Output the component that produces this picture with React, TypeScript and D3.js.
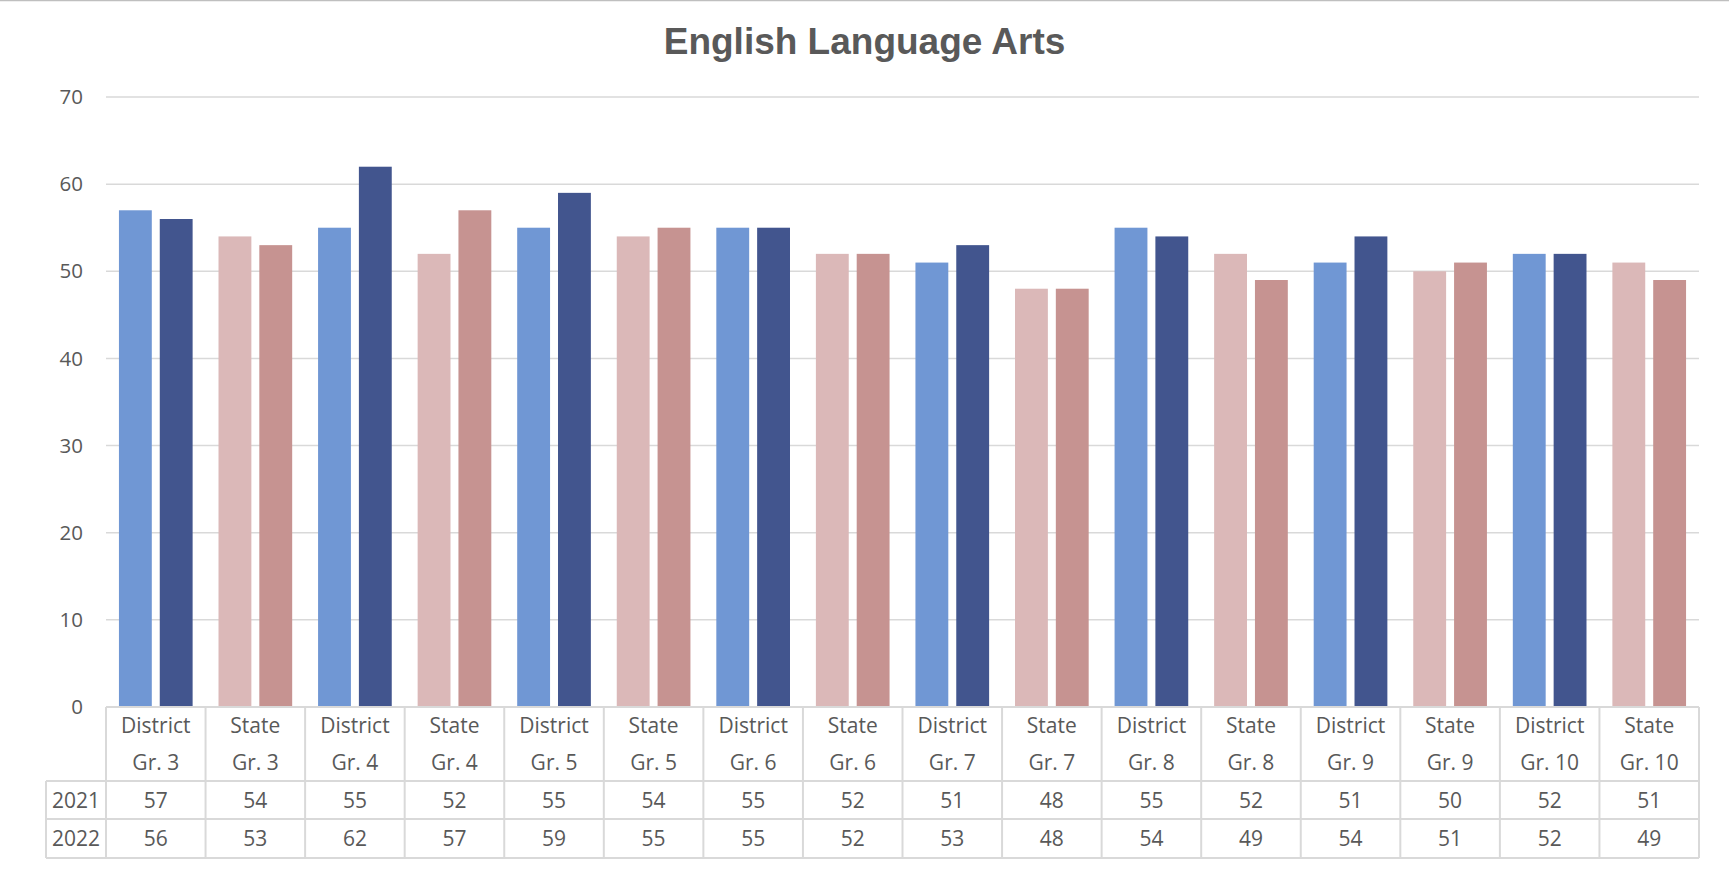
import React from "react";
import * as d3 from "d3";

const groups = ["District", "State", "District", "State", "District", "State", "District", "State", "District", "State", "District", "State", "District", "State", "District", "State"];
const grades = ["Gr. 3", "Gr. 3", "Gr. 4", "Gr. 4", "Gr. 5", "Gr. 5", "Gr. 6", "Gr. 6", "Gr. 7", "Gr. 7", "Gr. 8", "Gr. 8", "Gr. 9", "Gr. 9", "Gr. 10", "Gr. 10"];
const years = ["2021", "2022"];
const values2021 = [57, 54, 55, 52, 55, 54, 55, 52, 51, 48, 55, 52, 51, 50, 52, 51];
const values2022 = [56, 53, 62, 57, 59, 55, 55, 52, 53, 48, 54, 49, 54, 51, 52, 49];
const yTicks = [0, 10, 20, 30, 40, 50, 60, 70];
const title = "English Language Arts";

const W = 1729;
const H = 870;
const left = 106;
const right = 1699;
const top = 97;
const bottom = 707;
const legendLeft = 46;
const headerBottom = 781;
const row1Bottom = 819;
const row2Bottom = 858;

const textColor = "#595959";
const gridColor = "#D9D9D9";
const colors: Record<string, string[]> = {
  District: ["#7097D4", "#42558E"],
  State: ["#DBB8B8", "#C69391"],
};

export default function App() {
  const idx = groups.map((_, i) => String(i));
  const x = d3.scaleBand<string>().domain(idx).range([left, right]).padding(0);
  const x1 = d3
    .scaleBand<string>()
    .domain(years)
    .range([0, x.bandwidth()])
    .paddingInner(0.195)
    .paddingOuter(0.317);
  const y = d3.scaleLinear().domain([0, 70]).range([bottom, top]);
  const series = [values2021, values2022];
  const font = "'Open Sans', sans-serif";

  return (
    <svg width={W} height={H} style={{ display: "block" }}>
      <style>{`body{margin:0}`}</style>
      <rect x={0} y={0} width={W} height={H} fill="#fff" />
      <line x1={0} x2={W} y1={0.5} y2={0.5} stroke="#BFBFBF" strokeWidth={1.5} />
      <text
        x={W / 2}
        y={54}
        textAnchor="middle"
        fontFamily="'Liberation Sans', Arial, sans-serif"
        fontWeight="bold"
        fontSize={37}
        fill={textColor}
      >
        {title}
      </text>
      {yTicks.map((t) => (
        <g key={t}>
          {t > 0 && (
            <line x1={left} x2={right} y1={y(t)} y2={y(t)} stroke={gridColor} strokeWidth={1.5} />
          )}
          <text
            x={83}
            y={y(t)}
            dy="0.35em"
            textAnchor="end"
            fontFamily={font}
            fontSize={20.5}
            fill={textColor}
          >
            {t}
          </text>
        </g>
      ))}
      {idx.map((k, i) =>
        years.map((yr, j) => {
          const v = series[j][i];
          return (
            <rect
              key={k + yr}
              x={(x(k) as number) + (x1(yr) as number)}
              y={y(v)}
              width={x1.bandwidth()}
              height={y(0) - y(v)}
              fill={colors[groups[i]][j]}
            />
          );
        })
      )}
      <g stroke={gridColor} strokeWidth={2} fill="none">
        <line x1={left} x2={right} y1={bottom} y2={bottom} />
        <line x1={legendLeft} x2={right} y1={headerBottom} y2={headerBottom} />
        <line x1={legendLeft} x2={right} y1={row1Bottom} y2={row1Bottom} />
        <line x1={legendLeft} x2={right} y1={row2Bottom} y2={row2Bottom} />
        <line x1={legendLeft} x2={legendLeft} y1={headerBottom} y2={row2Bottom} />
        {idx.map((k) => (
          <line key={k} x1={x(k) as number} x2={x(k) as number} y1={bottom} y2={row2Bottom} />
        ))}
        <line x1={right} x2={right} y1={bottom} y2={row2Bottom} />
      </g>
      {idx.map((k, i) => {
        const cx = (x(k) as number) + x.bandwidth() / 2;
        return (
          <g key={"t" + k} fontFamily={font} fontSize={21} fill={textColor} textAnchor="middle">
            <text x={cx} y={733}>{groups[i]}</text>
            <text x={cx} y={770}>{grades[i]}</text>
            <text x={cx} y={808}>{values2021[i]}</text>
            <text x={cx} y={846}>{values2022[i]}</text>
          </g>
        );
      })}
      {years.map((yr, j) => (
        <text
          key={yr}
          x={(legendLeft + left) / 2}
          y={j === 0 ? 808 : 846}
          textAnchor="middle"
          fontFamily={font}
          fontSize={21}
          fill={textColor}
        >
          {yr}
        </text>
      ))}
    </svg>
  );
}
